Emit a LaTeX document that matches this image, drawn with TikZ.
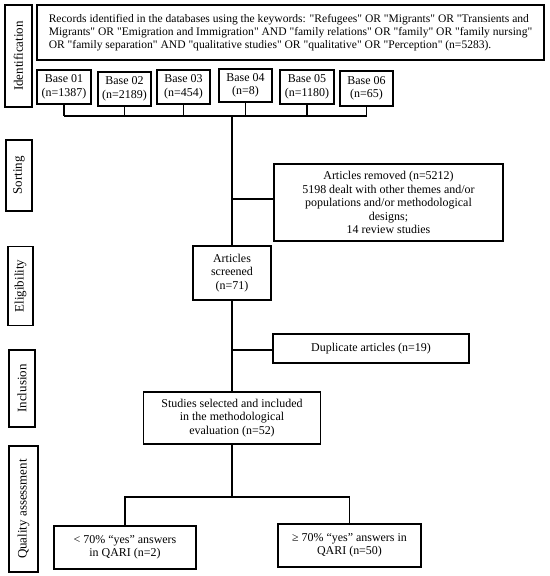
\documentclass[tikz,border=0pt]{standalone}
\usepackage{fontspec}
\setmainfont{Liberation Serif}[Ligatures=TeXOff]
\begin{document}
\begin{tikzpicture}[x=1bp,y=-1bp,
  box/.style={draw, line width=1.6bp, inner sep=0pt, align=center, font=\fontsize{12}{13.5}\selectfont},
  side/.style={draw, line width=1.6bp, inner sep=0pt, rotate=90, font=\fontsize{13}{14}\selectfont},
  link/.style={line width=1.4bp}]
\useasboundingbox (0,0) rectangle (550,576);
% side labels
\node[side, minimum width=102bp, minimum height=27bp] (ident) at (18.5,56) {Identification};
\node[side, minimum width=71bp, minimum height=26bp] (sort) at (19,175.5) {Sorting};
\node[side, minimum width=79bp, minimum height=25bp] (elig) at (20.5,286) {Eligibility};
\node[side, minimum width=77bp, minimum height=25.5bp] (incl) at (22,388.5) {Inclusion};
\node[side, minimum width=126bp, minimum height=29bp] (qual) at (23.5,509) {Quality assessment};
% records
\node[box, minimum width=507bp, minimum height=55bp, align=left, font=\fontsize{11.6}{13}\selectfont] (rec) at (290.5,32.5)
 {Records identified in the databases using the keywords: "Refugees" OR "Migrants" OR "Transients and\\
 Migrants" OR "Emigration and Immigration" AND "family relations" OR "family" OR "family nursing"\\
 OR "family separation" AND "qualitative studies" OR "qualitative" OR "Perception" (n=5283).};
% bases
\node[box, minimum width=54bp, minimum height=34bp] (b1) at (64,87) {Base 01\\(n=1387)};
\node[box, minimum width=53bp, minimum height=34bp] (b2) at (124.5,89) {Base 02\\(n=2189)};
\node[box, minimum width=53bp, minimum height=34bp] (b3) at (183.5,87) {Base 03\\(n=454)};
\node[box, minimum width=53bp, minimum height=33bp] (b4) at (245.5,85.5) {Base 04\\(n=8)};
\node[box, minimum width=54bp, minimum height=34bp] (b5) at (307,87) {Base 05\\(n=1180)};
\node[box, minimum width=53bp, minimum height=35bp] (b6) at (366.5,88.5) {Base 06\\(n=65)};
% flow
\node[box, minimum width=229bp, minimum height=77bp] (rem) at (388.5,202.5)
 {Articles removed (n=5212)\\5198 dealt with other themes and/or\\populations and/or methodological\\designs;\\14 review studies};
\node[box, minimum width=78bp, minimum height=54bp] (scr) at (232,273) {Articles\\screened\\(n=71)};
\node[box, minimum width=196bp, minimum height=29bp] (dup) at (371,348.5) {Duplicate articles (n=19)};
\node[box, minimum width=177bp, minimum height=52bp] (stu) at (232,418) {Studies selected and included\\in the methodological\\evaluation (n=52)};
\node[box, minimum width=142bp, minimum height=43bp] (low) at (125,547.5) {< 70\% “yes” answers\\in QARI (n=2)};
\node[box, minimum width=143bp, minimum height=43bp] (high) at (349.5,545.5) {≥ 70\% “yes” answers in\\QARI (n=50)};
% connectors
\coordinate (bus) at (232,116);
\coordinate (j1) at (232,199);
\coordinate (j2) at (232,350);
\coordinate (split) at (232,497);
\foreach \b in {b1,b2,b3,b4,b5,b6} \draw[link] (\b.south) -- (\b.south |- bus);
\draw[link] (b1.south |- bus) -- (b6.south |- bus);
\draw[link] (bus) -- (scr.north);
\draw[link] (j1) -- (j1 -| rem.west);
\draw[link] (scr.south) -- (stu.north);
\draw[link] (j2) -- (j2 -| dup.west);
\draw[link] (stu.south) -- (split);
\draw[link] (low.north) |- (split) -| (high.north);
\end{tikzpicture}
\end{document}
